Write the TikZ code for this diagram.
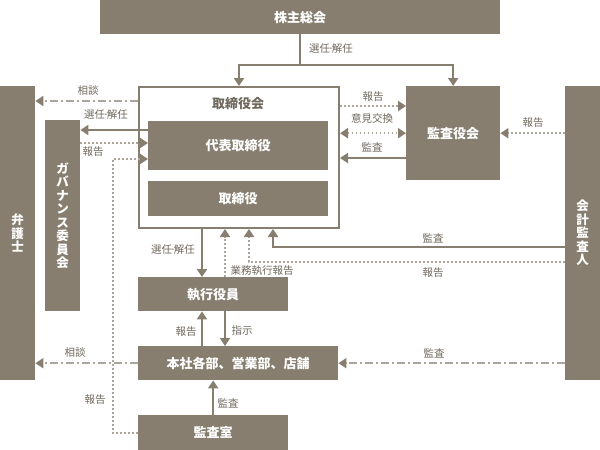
\documentclass[tikz,border=0pt]{standalone}
\usepackage{fontspec}
\setmainfont{Noto Sans CJK JP}
\usetikzlibrary{arrows.meta}
\definecolor{boxbrown}{HTML}{877E70}
\definecolor{dotgray}{HTML}{ABA59B}
\definecolor{labelgray}{HTML}{6F685D}
\newcommand{\tipsize}{width=10pt,length=8pt,color=boxbrown}
\newcommand{\midot}{\kern-2pt·\kern-2pt}

\begin{document}
\begin{tikzpicture}[x=1pt, y=-1pt,
    box/.style={fill=boxbrown, text=white, anchor=north west, inner sep=0pt, font=\bfseries\fontsize{13}{15}\selectfont},
    vbox/.style={box, align=center, font=\bfseries\fontsize{12.5}{13.5}\selectfont},
    frame/.style={draw=boxbrown, fill=white, line width=2pt, anchor=north west, inner sep=0pt},
    lbl/.style={text=labelgray, inner sep=0pt, font=\fontsize{10.5}{12}\selectfont},
    headed/.style={-{Triangle[\tipsize]}},
    twoheaded/.style={{Triangle[\tipsize]}-{Triangle[\tipsize]}},
    solidline/.style={draw=boxbrown, line width=2pt},
    dotline/.style={draw=dotgray, line width=2pt, dash pattern=on 1.6pt off 2.4pt},
    talkline/.style={draw=dotgray, line width=2pt, dash pattern=on 8pt off 3pt on 2pt off 3pt}]
    \useasboundingbox (0,0) rectangle (600,450);

    % Boxes
    \node[box, minimum width=400pt, minimum height=34pt] (meeting) at (100,0) {株主総会};
    \node[frame, minimum width=200pt, minimum height=141pt] (board) at (138,86) {};
    \node[lbl, text=labelgray, font=\bfseries\fontsize{13}{15}\selectfont] (boardtitle) at (238,104) {取締役会};
    \node[box, minimum width=180pt, minimum height=49pt] (rep) at (148,121) {代表取締役};
    \node[box, minimum width=180pt, minimum height=35pt] (dir) at (148,181) {取締役};
    \node[box, minimum width=94pt, minimum height=94pt] (kansa) at (406,86) {監査役会};
    \node[vbox, minimum width=35pt, minimum height=294pt] (lawyer) at (0,86) {弁\\護\\士};
    \node[vbox, minimum width=35pt, minimum height=191pt] (gov) at (45,120) {ガ\\バ\\ナ\\ン\\ス\\委\\員\\会};
    \node[vbox, minimum width=35pt, minimum height=294pt] (auditor) at (565,86) {会\\計\\監\\査\\人};
    \node[box, minimum width=150pt, minimum height=34pt] (exec) at (138,277) {執行役員};
    \node[box, minimum width=200pt, minimum height=34pt] (dept) at (138,346) {本社各部、営業部、店舗};
    \node[box, minimum width=150pt, minimum height=35pt] (audit) at (138,415) {監査室};

    % Attach points
    \coordinate (talkA) at ([yshift=-15pt]board.north west);
    \coordinate (govA) at ([yshift=-9pt]rep.north west);
    \coordinate (govB) at ([yshift=-22pt]rep.north west);
    \coordinate (repC) at ([yshift=-38pt]rep.north west);
    \coordinate (kA) at ([yshift=-20pt]kansa.north west);
    \coordinate (kC) at ([yshift=-72pt]kansa.north west);
    \coordinate (eA) at ([xshift=64pt]exec.north west);
    \coordinate (eB) at ([xshift=87pt]exec.north west);
    \coordinate (aA) at ([yshift=-161pt]auditor.north west);
    \coordinate (aB) at ([yshift=-176pt]auditor.north west);
    \coordinate (bA) at ([xshift=135pt]board.south west);
    \coordinate (bB) at ([xshift=111pt]board.south west);

    % Connectors
    \draw[solidline] (meeting.south) -- ++(0,31) coordinate (split);
    \draw[solidline, headed] (split) -| (board.north);
    \draw[solidline, headed] (split) -| (kansa.north);

    \draw[talkline, headed] (talkA) -- (talkA -| lawyer.east);
    \draw[solidline, headed] (govA) -- (govA -| gov.east);
    \draw[dotline, headed] (govB -| gov.east) -- (govB);
    \draw[dotline, headed] (audit.west) -- ++(-25,0) |- (repC);

    \draw[dotline, headed] (kA -| board.east) -- (kA);
    \draw[dotline, twoheaded] (kansa.west -| board.east) -- (kansa.west);
    \draw[solidline, headed] (kC) -- (kC -| board.east);
    \draw[dotline, headed] (kansa.east -| auditor.west) -- (kansa.east);

    \draw[solidline, headed] (eA |- board.south) -- (eA);
    \draw[dotline, headed] (eB) -- (eB |- board.south);
    \draw[dotline, headed] (aB) -| (bB);
    \draw[solidline, headed] (aA) -| (bA);

    \draw[solidline, headed] (eA |- dept.north) -- (eA |- exec.south);
    \draw[solidline, headed] (eB |- exec.south) -- (eB |- dept.north);
    \draw[talkline, headed] (dept.west) -- (dept.west -| lawyer.east);
    \draw[talkline, headed] (dept.east -| auditor.west) -- (dept.east);
    \draw[solidline, headed] (audit.north) -- (audit.north |- dept.south);

    % Labels
    \node[lbl] (l-top) at (331,49) {選任\midot 解任};
    \node[lbl] (l-talk1) at (88,91) {相談};
    \node[lbl] (l-gov1) at (106,115) {選任\midot 解任};
    \node[lbl] (l-gov2) at (93,152) {報告};
    \node[lbl] (l-k1) at (373,97) {報告};
    \node[lbl] (l-k2) at (372,119) {意見交換};
    \node[lbl] (l-k3) at (372,147) {監査};
    \node[lbl] (l-a1) at (533,123) {報告};
    \node[lbl] (l-e1) at (173,250) {選任\midot 解任};
    \node[lbl] (l-e2) at (262,271) {業務執行報告};
    \node[lbl] (l-a2) at (433,238) {監査};
    \node[lbl] (l-a3) at (433,273) {報告};
    \node[lbl] (l-d1) at (186,332) {報告};
    \node[lbl] (l-d2) at (242,331) {指示};
    \node[lbl] (l-talk2) at (75,353) {相談};
    \node[lbl] (l-r1) at (95,400) {報告};
    \node[lbl] (l-r2) at (228,403) {監査};
    \node[lbl] (l-a4) at (434,353) {監査};

\end{tikzpicture}
\end{document}
